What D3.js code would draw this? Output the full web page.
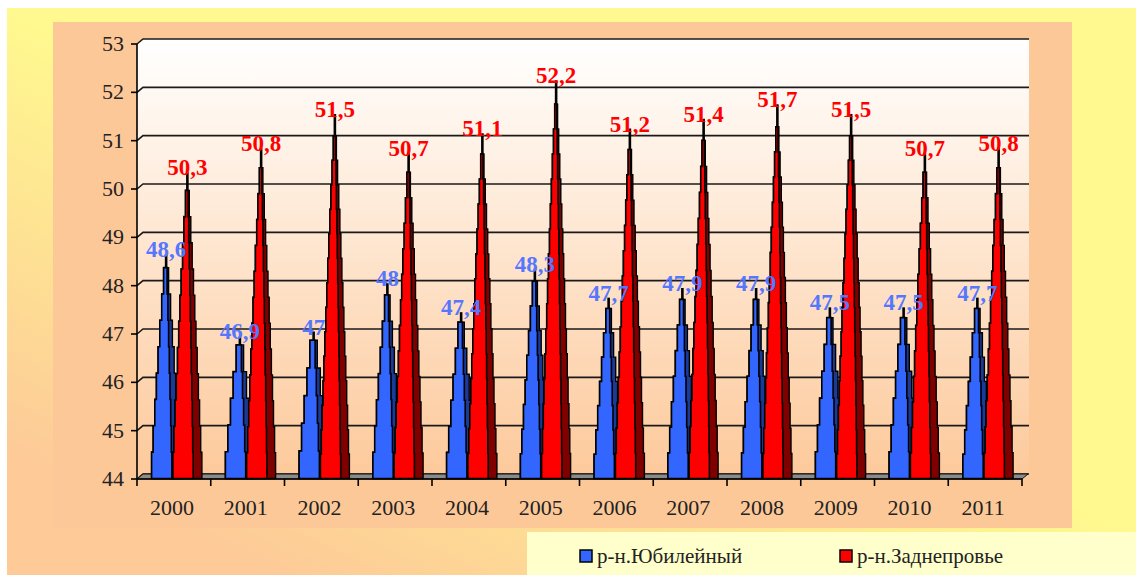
<!DOCTYPE html>
<html><head><meta charset="utf-8">
<script src="https://cdn.jsdelivr.net/npm/d3@7"></script>
<style>html,body{margin:0;padding:0;background:#fff;}svg{display:block;}
.srf{font-family:"Liberation Serif","DejaVu Serif",serif;}</style>
</head><body>
<svg id="c" width="1136" height="575"></svg>
<script>
const years = ["2000","2001","2002","2003","2004","2005","2006","2007","2008","2009","2010","2011"];
const seriesNames = ["р-н.Юбилейный","р-н.Заднепровье"];
const yubileiny = [48.6,46.9,47,48,47.4,48.3,47.7,47.9,47.9,47.5,47.5,47.7];
const zadneprovie = [50.3,50.8,51.5,50.7,51.1,52.2,51.2,51.4,51.7,51.5,50.7,50.8];
const yTicks = [44,45,46,47,48,49,50,51,52,53];

(function(){
const svg = d3.select("#c");
const defs = svg.append("defs");

const og = defs.append("linearGradient").attr("id","outerG").attr("gradientUnits","userSpaceOnUse")
  .attr("x1",0).attr("y1",450).attr("x2",168).attr("y2",85);
og.append("stop").attr("offset",0).attr("stop-color","#fdca98");
og.append("stop").attr("offset",1).attr("stop-color","#fff98f");
const wg = defs.append("linearGradient").attr("id","wallG").attr("x1",0).attr("y1",0).attr("x2",0).attr("y2",1);
wg.append("stop").attr("offset",0).attr("stop-color","#ffffff");
wg.append("stop").attr("offset",1).attr("stop-color","#fdc99a");

svg.append("rect").attr("x",7).attr("y",8).attr("width",1129).attr("height",567).attr("fill","url(#outerG)");
svg.append("rect").attr("x",53).attr("y",22).attr("width",1019).attr("height",506).attr("fill","#fdc898");

const pL = 137, pR = 1022, pT = 44, pB = 479;
const DX = 6, DY = -5;
const x = d3.scaleBand().domain(years).range([pL, pR]).padding(0);
const xs = d3.scaleBand().domain(seriesNames).range([15.5, 58]);
const y = d3.scaleLinear().domain([44,53]).range([pB, pT]);
const coneX = (yr, nm) => x(yr) + xs(nm) + xs.bandwidth()/2 + DX/2;

svg.append("polygon")
  .attr("points", [[pL,pT],[pL+DX,pT+DY],[pR+DX+1,pT+DY],[pR+DX+1,pB+DY],[pL+DX,pB+DY],[pL,pB]].map(p=>p.join(",")).join(" "))
  .attr("fill","url(#wallG)");

const grid = svg.append("g");
yTicks.forEach(t => {
  grid.append("path")
    .attr("d", `M${pL},${y(t)}L${pL+DX},${y(t)+DY}H${pR+DX+1}`)
    .attr("fill","none").attr("stroke","#1a1a1a").attr("stroke-width",1.6);
});

svg.append("polygon")
  .attr("points", [[pL,pB],[pR,pB],[pR+DX,pB+DY],[pL+DX,pB+DY]].map(p=>p.join(",")).join(" "))
  .attr("fill","#8a8a8a").attr("stroke","#111").attr("stroke-width",1);

function stepPoly(cx, yb, yt, hw, f0, f1, n) {
  const h = yb - yt;
  const L = [], R = [];
  for (let k = 0; k < n; k++) {
    const ys0 = yb - k*h/n, ys1 = yb - (k+1)*h/n;
    const w = hw*Math.pow(1 - k/n, 0.85);
    const xl = cx - w + f0*2*w, xr = cx - w + f1*2*w;
    L.push([xl, ys0],[xl, ys1]);
    R.push([xr, ys0],[xr, ys1]);
  }
  return L.concat(R.reverse()).map(p=>p[0].toFixed(1)+","+p[1].toFixed(1)).join(" ");
}
const colors = {
  "р-н.Юбилейный": {light:"#3366ff", dark:"#1a3a99", label:"#5577ff"},
  "р-н.Заднепровье": {light:"#ff0000", dark:"#800000", label:"#ff0000"}
};
const series = [
  {name: seriesNames[0], values: yubileiny},
  {name: seriesNames[1], values: zadneprovie}
];
const HW = 14.5;
const cones = svg.append("g");
years.forEach((yr, i) => {
  series.forEach(s => {
    const v = s.values[i];
    const cx = coneX(yr, s.name);
    const yb = pB + DY/2 + 2;
    const yt = y(v) + DY/2;
    const h = yb - yt;
    const n = Math.max(4, Math.round(h/27));
    const hgt = yb - h*0.94;
    const c = colors[s.name];
    const g = cones.append("g");
    g.append("line").attr("x1",cx).attr("x2",cx).attr("y1",yt).attr("y2",yb-10)
      .attr("stroke","#000").attr("stroke-width",2.6);
    g.append("polygon").attr("points", stepPoly(cx, yb, hgt, HW, 0, 1, n))
      .attr("fill", c.dark).attr("stroke","#000").attr("stroke-width",1.4);
    g.append("polygon").attr("points", stepPoly(cx, yb, hgt, HW, 0, 0.7, n))
      .attr("fill", c.light).attr("stroke","#000").attr("stroke-width",1.6);
  });
});

const axG = svg.append("g").attr("class","srf");
axG.append("line").attr("x1",pL).attr("x2",pL).attr("y1",pT).attr("y2",pB).attr("stroke","#000").attr("stroke-width",1.6);
axG.append("line").attr("x1",pL).attr("x2",pR).attr("y1",pB).attr("y2",pB).attr("stroke","#000").attr("stroke-width",1.6);
axG.selectAll(".yt").data(yTicks).join("line")
  .attr("x1",pL-6).attr("x2",pL).attr("y1",d=>y(d)).attr("y2",d=>y(d)).attr("stroke","#000").attr("stroke-width",1.6);
axG.selectAll(".yl").data(yTicks).join("text")
  .attr("x",pL-13).attr("y",d=>y(d)+7).attr("text-anchor","end")
  .attr("font-size",22).attr("fill","#222").text(d=>d);
const xTickPos = years.map(d=>x(d)).concat([pR]);
axG.selectAll(".xt").data(xTickPos).join("line")
  .attr("x1",d=>d).attr("x2",d=>d).attr("y1",pB).attr("y2",pB+7).attr("stroke","#000").attr("stroke-width",1.6);
axG.selectAll(".xl").data(years).join("text")
  .attr("x",d=>x(d)+x.bandwidth()/2-2).attr("y",pB+36).attr("text-anchor","middle")
  .attr("font-size",22).attr("fill","#222").text(d=>d);

const fmt = v => String(v).replace(".", ",");
const lab = svg.append("g").attr("class","srf")
  .attr("font-weight","bold").attr("font-size",23).attr("text-anchor","middle");
years.forEach((yr, i) => {
  series.forEach(s => {
    const v = s.values[i];
    const cx = coneX(yr, s.name);
    const yt = y(v) + DY/2;
    lab.append("text").attr("x",cx).attr("y",yt+3).attr("fill",colors[s.name].label)
      .text(fmt(v));
  });
});

svg.append("rect").attr("x",527).attr("y",532).attr("width",609).attr("height",43).attr("fill","#ffffcc");
const lg = svg.append("g").attr("class","srf").attr("font-size",21).attr("fill","#222");
const legX = d3.scaleOrdinal().domain(seriesNames).range([580, 840]);
seriesNames.forEach(nm => {
  lg.append("rect").attr("x",legX(nm)).attr("y",550).attr("width",12).attr("height",12)
    .attr("fill",colors[nm].light).attr("stroke","#000").attr("stroke-width",1.5);
  lg.append("text").attr("x",legX(nm)+17).attr("y",563).text(nm);
});
})();
</script>
</body></html>
